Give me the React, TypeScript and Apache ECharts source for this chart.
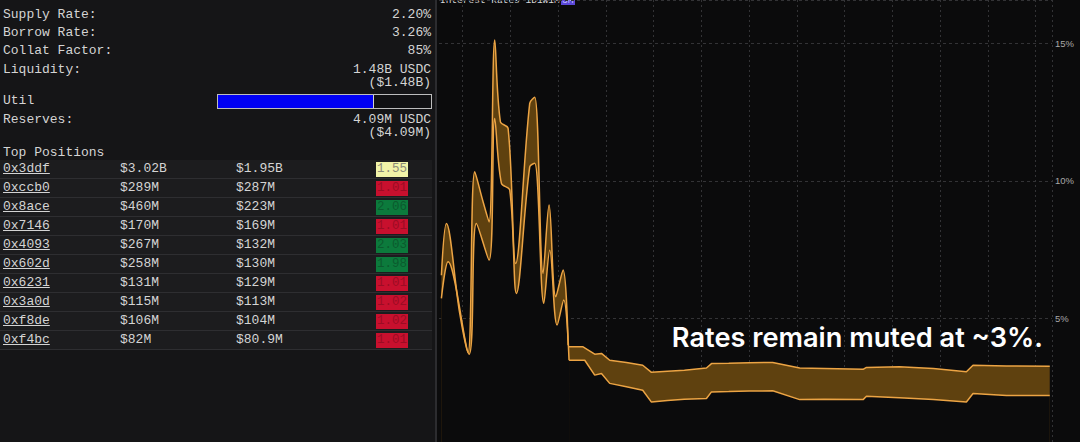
import { useEffect, useRef } from "react";
import * as echarts from "echarts";

// ---- market summary ----
const statLabels = ["Supply Rate:", "Borrow Rate:", "Collat Factor:", "Liquidity:"];
const statValues = ["2.20%", "3.26%", "85%", "1.48B USDC"];
const liquidityUsd = "($1.48B)";
const utilLabel = "Util";
const utilization = 0.726;
const reservesLabel = "Reserves:";
const reservesValue = "4.09M USDC";
const reservesUsd = "($4.09M)";
const positionsTitle = "Top Positions";

// ---- top positions ----
const positionAddresses = ["0x3ddf", "0xccb0", "0x8ace", "0x7146", "0x4093", "0x602d", "0x6231", "0x3a0d", "0xf8de", "0xf4bc"];
const positionCollateral = ["$3.02B", "$289M", "$460M", "$170M", "$267M", "$258M", "$131M", "$115M", "$106M", "$82M"];
const positionDebt = ["$1.95B", "$287M", "$223M", "$169M", "$132M", "$130M", "$129M", "$113M", "$104M", "$80.9M"];
const positionHealth = [1.55, 1.01, 2.06, 1.01, 2.03, 1.98, 1.01, 1.02, 1.02, 1.01];

// ---- interest rate history: [day, rate %] ----
const chartTitle = "Interest Rates 1D1W1M";
const activeRange = "3M";
const annotation = "Rates remain muted at ~3%.";

const borrowVolatile = [
  [3.87, 6.57], [4.61, 8.45], [6.56, 5.18], [7.78, 3.76], [8.76, 10.33], [9.98, 9.24],
  [10.86, 8.51], [11.69, 15.12], [12.52, 12.15], [13.65, 11.91], [14.77, 7.0], [16.82, 12.82],
  [17.56, 13.04], [18.78, 6.64], [19.66, 9.12], [20.64, 5.79], [21.71, 6.76], [22.45, 4.03],
];
const supplyVolatile = [
  [3.87, 5.73], [4.85, 7.06], [7.93, 3.7], [9.0, 8.45], [10.86, 7.12], [11.69, 12.27],
  [12.67, 9.91], [13.89, 9.67], [14.87, 5.91], [16.82, 10.51], [17.56, 10.64], [18.88, 5.55],
  [19.76, 7.48], [20.83, 4.76], [21.81, 5.67], [22.59, 3.48],
];
const borrowSettled = [
  [22.45, 3.97], [24.64, 3.97], [26.35, 3.7], [27.34, 3.73], [28.55, 3.48], [31.0, 3.4],
  [33.39, 3.3], [34.67, 3.04], [37.0, 3.08], [39.5, 3.12], [42.73, 3.2], [43.47, 3.36],
  [46.0, 3.37], [49.0, 3.39], [52.45, 3.4], [56.41, 3.2], [60.0, 3.18], [65.7, 3.15],
  [66.19, 3.22], [71.0, 3.24], [76.0, 3.18], [80.85, 3.06], [81.82, 3.3], [86.72, 3.27],
  [93.07, 3.26],
];
const supplySettled = [
  [22.59, 3.48], [24.89, 3.48], [26.35, 2.94], [27.34, 3.0], [28.55, 2.64], [31.0, 2.52],
  [33.39, 2.39], [34.67, 1.96], [37.0, 2.02], [39.5, 2.06], [42.73, 2.09], [43.47, 2.33],
  [46.0, 2.34], [49.0, 2.36], [52.45, 2.37], [56.41, 2.05], [60.0, 2.06], [65.7, 2.05],
  [66.19, 2.17], [71.0, 2.12], [76.0, 2.05], [80.85, 1.96], [81.82, 2.27], [86.72, 2.2],
  [93.07, 2.2],
];

const mono = '"Liberation Mono", "DejaVu Sans Mono", monospace';
const panelText = "#d4d4d4";
const chartBg = "#0b0b0c";
const bandFill = "#5f410f";
const bandLine = "#eca444";
const gridLine = "#333336";

function healthColors(h: number) {
  if (h >= 1.9) return { bg: "#0c7a3c", fg: "#0b5a2e" };
  if (h >= 1.1) return { bg: "#f1f3a8", fg: "#8c8c78" };
  return { bg: "#c8102e", fg: "#9c0c24" };
}

function bandSeries(data: number[][], smooth: number | boolean, fill: string) {
  return {
    type: "line",
    data,
    smooth,
    symbol: "none",
    silent: true,
    lineStyle: { color: bandLine, width: 1.5 },
    areaStyle: { color: fill, opacity: 1, origin: "start" },
  };
}

// The plot canvas starts at day 0 and 0 %, part of which sits beneath the side panel
// and below the visible frame; only the window from day ~3 upward is shown.
const CHART_LEFT = 415;
const CHART_HEIGHT = 456;

function RateChart() {
  const ref = useRef<HTMLDivElement>(null);
  useEffect(() => {
    if (!ref.current) return;
    const chart = echarts.init(ref.current, undefined, { renderer: "svg" });
    chart.setOption({
      animation: false,
      backgroundColor: chartBg,
      grid: { left: 0, right: 28, top: 0, bottom: 0 },
      xAxis: {
        type: "value",
        min: 0,
        max: 93.4,
        interval: 7,
        axisLine: { show: false },
        axisTick: { show: false },
        axisLabel: { show: false },
        splitLine: { show: true, lineStyle: { color: gridLine, type: [2, 3], width: 1 } },
      },
      yAxis: {
        type: "value",
        position: "right",
        min: 0,
        max: 16.575,
        interval: 5,
        axisLine: { show: true, lineStyle: { color: "#9c9c9c", width: 1 } },
        axisTick: { show: true, length: 3, lineStyle: { color: "#9c9c9c" } },
        axisLabel: {
          color: "#a8a8a8",
          fontSize: 9.5,
          fontFamily: "Liberation Sans, Arial, sans-serif",
          margin: 3,
          showMaxLabel: false,
          formatter: (v: number) => (v > 0 && v % 5 === 0 ? `${v}%` : ""),
        },
        splitLine: { show: true, lineStyle: { color: gridLine, type: [3, 3], width: 1 } },
      },
      series: [
        bandSeries(borrowVolatile, 0.35, bandFill),
        bandSeries(borrowSettled, false, bandFill),
        bandSeries(supplyVolatile, 0.35, chartBg),
        bandSeries(supplySettled, false, chartBg),
      ],
      graphic: [
        {
          type: "text",
          x: 440 - CHART_LEFT,
          y: 0.5,
          style: { text: chartTitle, fill: "#d8d8d8", font: `9.5px ${mono}`, verticalAlign: "middle" },
        },
        { type: "rect", shape: { x: 561 - CHART_LEFT, y: -7, width: 14, height: 12 }, style: { fill: "#5a48d8" } },
        {
          type: "text",
          x: 562 - CHART_LEFT,
          y: 0.5,
          style: { text: activeRange, fill: "#c8c4ff", font: `9.5px ${mono}`, verticalAlign: "middle" },
        },
        {
          type: "text",
          x: 1043 - CHART_LEFT,
          y: 337,
          z: 10,
          style: {
            text: annotation,
            fill: "#ffffff",
            font: "600 27.2px Inter, Roboto, sans-serif",
            align: "right",
            verticalAlign: "middle",
          },
        },
      ],
    });
    return () => chart.dispose();
  }, []);
  return (
    <div
      ref={ref}
      style={{
        position: "absolute",
        left: CHART_LEFT,
        top: 0,
        width: 1080 - CHART_LEFT,
        height: CHART_HEIGHT,
        overflow: "hidden",
        zIndex: 1,
      }}
    />
  );
}

function StatLine({ center, left, right }: { center: number; left?: string; right?: string }) {
  const box = { position: "absolute" as const, top: center - 6.5, lineHeight: "13px", whiteSpace: "pre" as const };
  return (
    <>
      {left && <div style={{ ...box, left: 3 }}>{left}</div>}
      {right && <div style={{ ...box, right: 4 }}>{right}</div>}
    </>
  );
}

function Panel() {
  const statCenters = [14, 32.3, 50.7, 69];
  return (
    <div
      style={{
        position: "absolute",
        left: 0,
        top: 0,
        width: 435,
        height: 442,
        background: "#151517",
        borderRight: "2px solid #2c2c2f",
        fontFamily: mono,
        fontSize: 13,
        color: panelText,
        zIndex: 2,
      }}
    >
      {statLabels.map((l, i) => (
        <StatLine key={l} center={statCenters[i]} left={l} right={statValues[i]} />
      ))}
      <StatLine center={82} right={liquidityUsd} />
      <StatLine center={100.7} left={utilLabel} />
      <div
        style={{
          position: "absolute",
          left: 217,
          top: 94,
          width: 213,
          height: 13,
          border: "1px solid #bdbdbd",
          background: "#111113",
        }}
      >
        <div style={{ width: 213 * utilization, height: 13, background: "#0000f4", borderRight: "1px solid #d0d0d0" }} />
      </div>
      <StatLine center={119} right={reservesValue} left={reservesLabel} />
      <StatLine center={132.5} right={reservesUsd} />
      <StatLine center={152.3} left={positionsTitle} />
      {positionAddresses.map((addr, i) => {
        const c = healthColors(positionHealth[i]);
        return (
          <div
            key={addr}
            style={{
              position: "absolute",
              left: 0,
              top: 160 + i * 19,
              width: 432,
              height: 18,
              background: "#1c1c1e",
              borderBottom: "1px solid #2e2e31",
              lineHeight: "18px",
            }}
          >
            <span style={{ position: "absolute", left: 3, textDecoration: "underline" }}>{addr}</span>
            <span style={{ position: "absolute", left: 120 }}>{positionCollateral[i]}</span>
            <span style={{ position: "absolute", left: 236 }}>{positionDebt[i]}</span>
            <span
              style={{
                position: "absolute",
                left: 376,
                top: 2,
                width: 32,
                height: 15,
                lineHeight: "15px",
                background: c.bg,
                color: c.fg,
                overflow: "hidden",
                fontSize: 12.5,
                textAlign: "center",
              }}
            >
              {positionHealth[i].toFixed(2)}
            </span>
          </div>
        );
      })}
    </div>
  );
}

export default function App() {
  return (
    <div style={{ position: "absolute", left: 0, top: 0, width: 1080, height: 442, background: chartBg, overflow: "hidden" }}>
      <Panel />
      <RateChart />
    </div>
  );
}
